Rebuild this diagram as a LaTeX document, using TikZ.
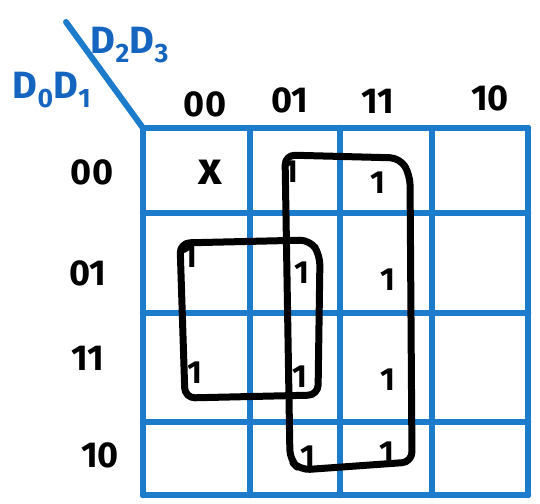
\documentclass[tikz,border=0pt]{standalone}
\usepackage{fontspec}
\setmainfont{Fira Sans}
\definecolor{penblue}{HTML}{1C7CCB}
\definecolor{inkblue}{HTML}{1565C0}
\begin{document}
\begin{tikzpicture}[x=1pt,y=-1pt,
  gridline/.style={penblue,line width=6.5pt,line cap=round},
  loop/.style={black,line width=7pt,rounded corners=10pt,line join=round},
  lbl/.style={font=\fontsize{36}{36}\selectfont\bfseries,text=black,inner sep=0pt},
  one/.style={font=\fontsize{32}{32}\selectfont\bfseries,text=black,inner sep=0pt},
  hdr/.style={font=\fontsize{38}{38}\selectfont\bfseries,text=inkblue,inner sep=0pt}]
\fill[white] (0,0) rectangle (540,503);
\useasboundingbox (0,0) rectangle (540,503);
% grid
\foreach \y in {128,213,313,422,495} \draw[gridline] (143,\y) -- (528,\y);
\foreach \x in {143,250,340,432,528} \draw[gridline] (\x,128) -- (\x,495);
% diagonal and header
\draw[penblue,line width=6pt,line cap=round] (66,22) -- (143,128);
\node[hdr] (rowvar) at (52,90) {D\textsubscript{0}D\textsubscript{1}};
\node[hdr] (colvar) at (130,45) {D\textsubscript{2}D\textsubscript{3}};
% column labels
\node[lbl] (c00) at (205,104) {00};
\node[lbl] (c01) at (290,100) {01};
\node[lbl] (c11) at (378,101) {11};
\node[lbl] (c10) at (490,98) {10};
% row labels
\node[lbl] (r00) at (92,172) {00};
\node[lbl] (r01) at (88,273) {01};
\node[lbl] (r11) at (88,358) {11};
\node[lbl] (r10) at (100,455) {10};
% cell entries
\node[one,font=\fontsize{46}{46}\selectfont\bfseries] (x00) at (210,172) {x};
\node[one] (m0001) at (291,172) {1};
\node[one] (m0101) at (302,273) {1};
\node[one] (m1101) at (300,377) {1};
\node[one] (m1001) at (308,457) {1};
\node[one] (m0011) at (378,183) {1};
\node[one] (m0111) at (388,280) {1};
\node[one] (m1111) at (388,380) {1};
\node[one] (m1011) at (387,453) {1};
\node[one] (m0100) at (190,257) {1};
\node[one] (m1100) at (195,373) {1};
% groupings
\draw[loop] (285,155) -- (400,158) -- (410,175) -- (412,462) -- (300,470) -- (290,460) -- cycle;
\draw[loop] (180,243) -- (310,240) -- (320,255) -- (318,395) -- (185,398) -- cycle;
\end{tikzpicture}
\end{document}
